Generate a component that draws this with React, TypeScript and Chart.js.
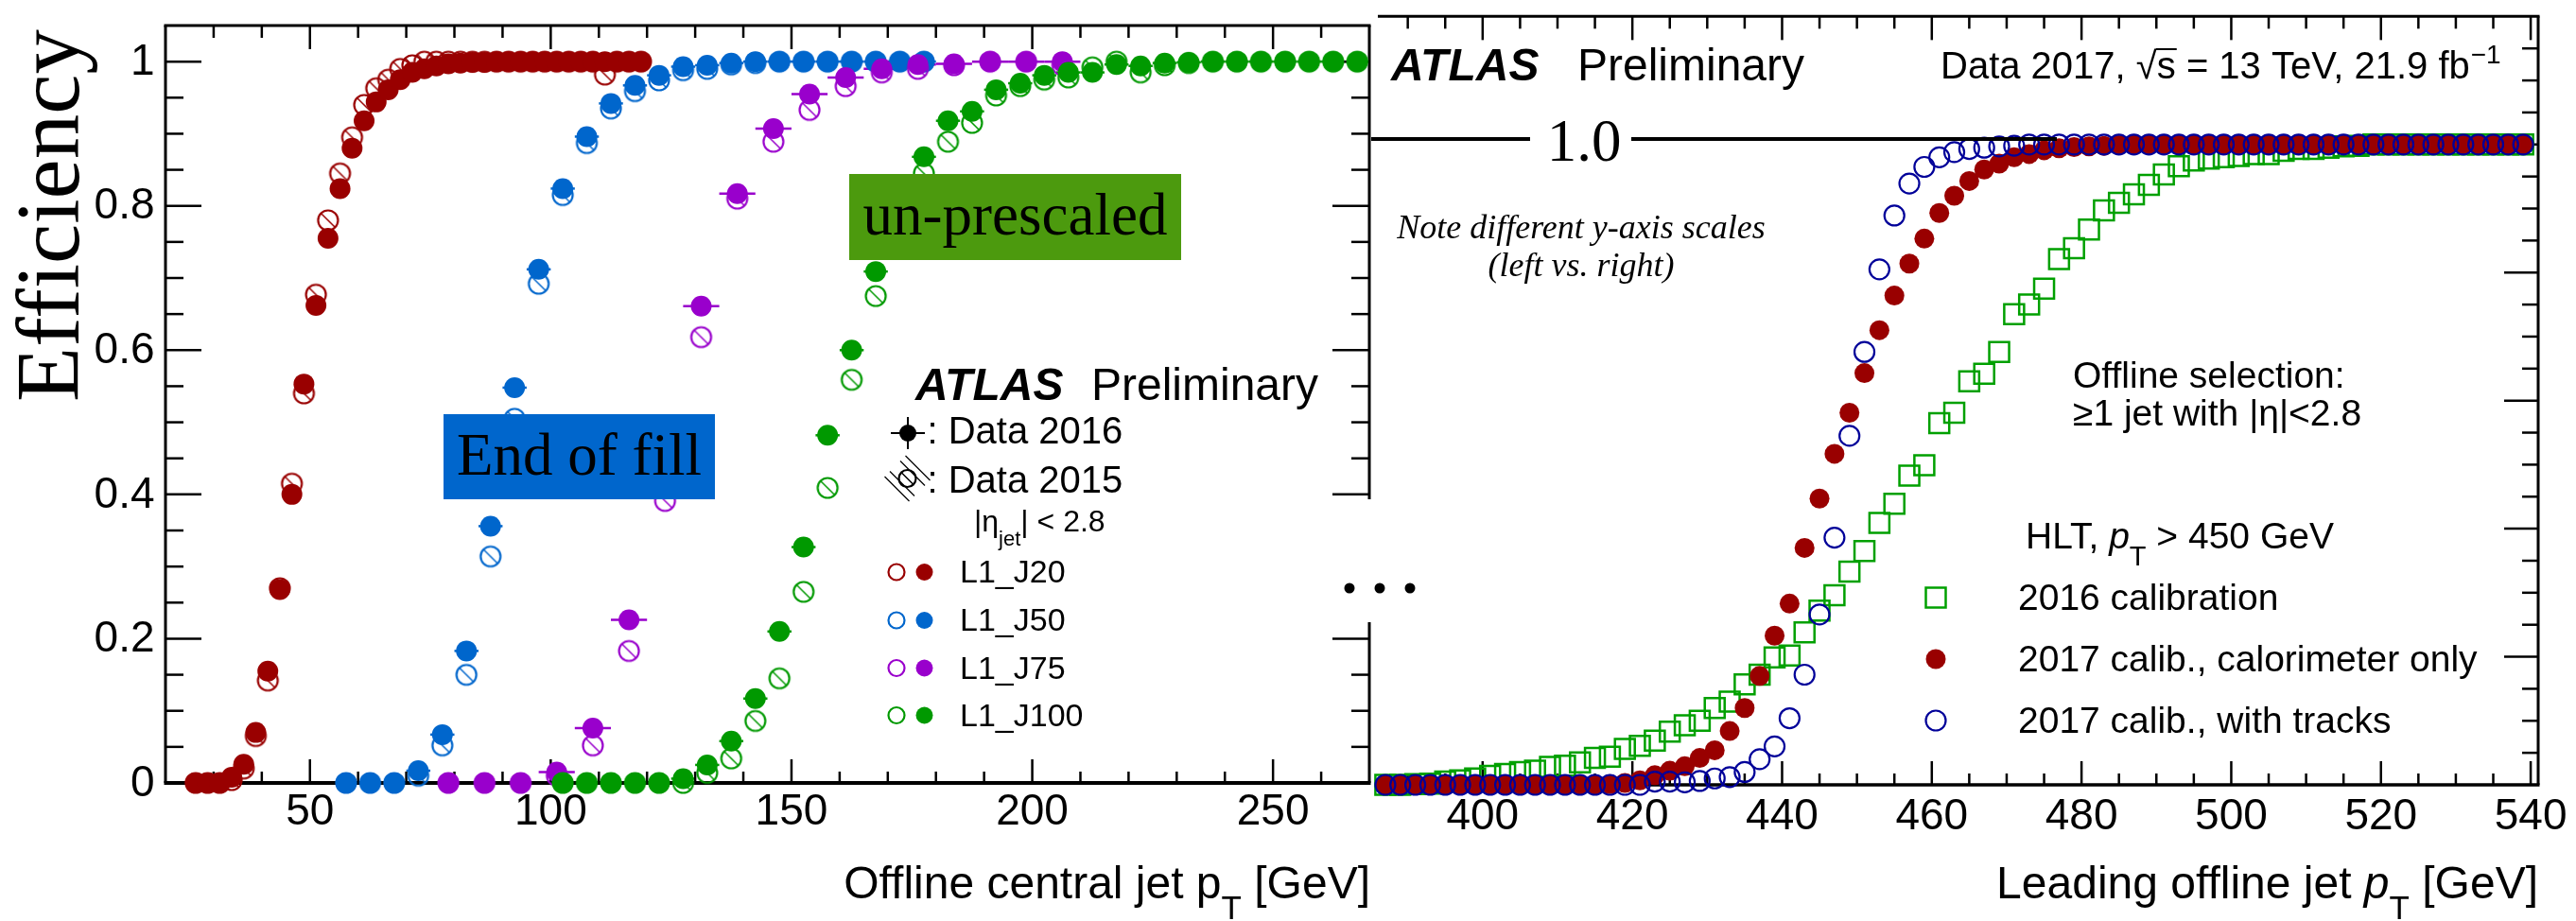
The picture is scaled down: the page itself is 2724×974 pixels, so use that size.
import React, { useEffect, useRef } from 'react';
import { Chart, registerables } from 'chart.js';

Chart.register(...registerables);

const SANS = '"Liberation Sans", Arial, Helvetica, sans-serif';
const SERIF = '"Liberation Serif", "Times New Roman", serif';
const sans = (px: number, style = '') => `${style} ${px}px ${SANS}`.trim();
const serif = (px: number, style = '') => `${style} ${px}px ${SERIF}`.trim();

// ---------- Left panel: L1 jet trigger turn-on curves ----------
const j20Pt = [26.25, 28.75, 31.25, 33.75, 36.25, 38.75, 41.25, 43.75, 46.25, 48.75, 51.25, 53.75, 56.25, 58.75, 61.25, 63.75, 66.25, 68.75, 71.25, 73.75, 76.25, 78.75, 81.25, 83.75, 86.25, 88.75, 91.25, 93.75, 96.25, 98.75, 101.25, 103.75, 106.25, 108.75, 111.25, 113.75, 116.25, 118.75];
const j20Eff2016 = [0, 0, 0, 0.008, 0.026, 0.07, 0.155, 0.268, 0.4, 0.553, 0.662, 0.755, 0.824, 0.88, 0.918, 0.944, 0.961, 0.975, 0.985, 0.99, 0.994, 0.997, 0.998, 0.999, 0.999, 1, 1, 1, 1, 1, 1, 1, 1, 1, 1, 1, 1, 1];
const j20Eff2015 = [0, 0, 0, 0.004, 0.02, 0.065, 0.142, 0.27, 0.415, 0.54, 0.677, 0.78, 0.845, 0.895, 0.94, 0.963, 0.975, 0.99, 0.995, 1, 1, 1, 1, 1, 1, 1, 1, 1, 1, 1, 1, 1, 1, 1, 0.982, 1, 1, 1];

const j50Pt = [57.5, 62.5, 67.5, 72.5, 77.5, 82.5, 87.5, 92.5, 97.5, 102.5, 107.5, 112.5, 117.5, 122.5, 127.5, 132.5, 137.5, 142.5, 147.5, 152.5, 157.5, 162.5, 167.5, 172.5, 177.5];
const j50Eff2016 = [0, 0, 0, 0.017, 0.067, 0.183, 0.356, 0.548, 0.712, 0.824, 0.896, 0.942, 0.967, 0.981, 0.993, 0.995, 0.998, 1, 1, 1, 1, 1, 1, 1, 1];
const j50Eff2015 = [0, 0, 0, 0.01, 0.052, 0.15, 0.314, 0.505, 0.692, 0.815, 0.887, 0.935, 0.959, 0.974, 0.988, 0.99, 0.996, 0.998, 1, 1, 1, 1, 1, 1, 1];

const j75Pt = [78.75, 86.25, 93.75, 101.25, 108.75, 116.25, 123.75, 131.25, 138.75, 146.25, 153.75, 161.25, 168.75, 176.25, 183.75, 191.25, 198.75, 206.25];
const j75Eff2016 = [0, 0, 0, 0.015, 0.076, 0.226, 0.43, 0.661, 0.817, 0.907, 0.955, 0.978, 0.99, 0.996, 0.997, 1, 1, 1];
const j75Eff2015 = [0, 0, 0, 0.01, 0.052, 0.183, 0.391, 0.618, 0.81, 0.889, 0.933, 0.966, 0.985, 0.99, 0.995, 1, 1, 0.995];

const j100Pt = [102.5, 107.5, 112.5, 117.5, 122.5, 127.5, 132.5, 137.5, 142.5, 147.5, 152.5, 157.5, 162.5, 167.5, 172.5, 177.5, 182.5, 187.5, 192.5, 197.5, 202.5, 207.5, 212.5, 217.5, 222.5, 227.5, 232.5, 237.5, 242.5, 247.5, 252.5, 257.5, 262.5, 267.5];
const j100Eff2016 = [0, 0, 0, 0, 0, 0.006, 0.025, 0.058, 0.117, 0.21, 0.327, 0.482, 0.6, 0.709, 0.8, 0.868, 0.918, 0.931, 0.961, 0.97, 0.981, 0.985, 0.985, 0.996, 0.994, 0.998, 0.999, 1, 1, 1, 1, 1, 1, 1];
const j100Eff2015 = [0, 0, 0, 0, 0, 0, 0.014, 0.034, 0.086, 0.145, 0.265, 0.409, 0.559, 0.675, 0.77, 0.845, 0.889, 0.915, 0.953, 0.966, 0.975, 0.978, 0.992, 1, 0.985, 0.995, 0.998, 1, 1, 1, 1, 1, 1, 1];

const leftXTicks = [50, 100, 150, 200, 250];
const leftYTicks = [0, 0.2, 0.4, 0.6, 0.8, 1];
const leftYTickLabels = ['0', '0.2', '0.4', '0.6', '0.8', '1'];
const leftLegendNames = ['L1_J20', 'L1_J50', 'L1_J75', 'L1_J100'];

// ---------- Right panel: HLT j450 turn-on ----------
const hltPt = [387, 389, 391, 393, 395, 397, 399, 401, 403, 405, 407, 409, 411, 413, 415, 417, 419, 421, 423, 425, 427, 429, 431, 433, 435, 437, 439, 441, 443, 445, 447, 449, 451, 453, 455, 457, 459, 461, 463, 465, 467, 469, 471, 473, 475, 477, 479, 481, 483, 485, 487, 489, 491, 493, 495, 497, 499, 501, 503, 505, 507, 509, 511, 513, 515, 517, 519, 521, 523, 525, 527, 529, 531, 533, 535, 537, 539];
const hltEff2016Calib = [0, 0, 0.001, 0.002, 0.005, 0.007, 0.01, 0.014, 0.017, 0.02, 0.022, 0.028, 0.03, 0.035, 0.042, 0.044, 0.056, 0.061, 0.069, 0.083, 0.093, 0.1, 0.12, 0.13, 0.157, 0.172, 0.199, 0.202, 0.238, 0.272, 0.296, 0.333, 0.365, 0.409, 0.439, 0.483, 0.499, 0.565, 0.581, 0.63, 0.642, 0.676, 0.735, 0.75, 0.775, 0.821, 0.838, 0.867, 0.897, 0.909, 0.922, 0.937, 0.953, 0.966, 0.975, 0.978, 0.98, 0.982, 0.985, 0.985, 0.99, 0.993, 0.993, 0.995, 0.997, 0.998, 1, 1, 1, 1, 1, 1, 1, 1, 1, 1, 1];
const hltEff2017Calo = [0, 0, 0, 0, 0, 0, 0, 0, 0, 0, 0, 0, 0, 0, 0, 0.001, 0.003, 0.007, 0.015, 0.022, 0.029, 0.042, 0.054, 0.084, 0.12, 0.17, 0.233, 0.283, 0.37, 0.447, 0.517, 0.581, 0.643, 0.71, 0.764, 0.814, 0.853, 0.893, 0.92, 0.943, 0.961, 0.97, 0.98, 0.985, 0.991, 0.994, 0.996, 0.997, 0.998, 0.999, 1, 1, 1, 1, 1, 1, 1, 1, 1, 1, 1, 1, 1, 1, 1, 1, 1, 1, 1, 1, 1, 1, 1, 1, 1, 1, 1];
const hltEff2017Tracks = [0, 0, 0, 0, 0, 0, 0, 0, 0, 0, 0, 0, 0, 0, 0, 0, 0, 0, 0.005, 0.005, 0.004, 0.006, 0.01, 0.012, 0.02, 0.04, 0.06, 0.104, 0.172, 0.266, 0.386, 0.545, 0.676, 0.805, 0.889, 0.939, 0.965, 0.98, 0.988, 0.993, 0.995, 0.997, 0.998, 1, 1, 1, 1, 1, 1, 1, 1, 1, 1, 1, 1, 1, 1, 1, 1, 1, 1, 1, 1, 1, 1, 1, 1, 1, 1, 1, 1, 1, 1, 1, 1, 1, 1];

const rightXTicks = [400, 420, 440, 460, 480, 500, 520, 540];
const rightLegendNames = ['2016 calibration', '2017 calib., calorimeter only', '2017 calib., with tracks'];

// ---------- styles ----------
const RED = '#990000';
const BLUE = '#0066cc';
const PURPLE = '#9900cc';
const GREEN = '#009900';
const CAL16 = '#00a000';
const CALO17 = '#990000';
const TRK17 = '#000099';
const BOX_BLUE = '#0066cc';
const BOX_GREEN = '#4c9a0e';

const RIGHT_CANVAS_X = 1400;

function pts(x: number[], y: number[]) {
  return x.map((v, i) => ({ x: v, y: y[i] }));
}

function line(ctx: CanvasRenderingContext2D, x1: number, y1: number, x2: number, y2: number) {
  ctx.beginPath();
  ctx.moveTo(x1, y1);
  ctx.lineTo(x2, y2);
  ctx.stroke();
}

// open circle with a diagonal stroke (2015 marker)
function makeSlashCircle(color: string, r: number, lw: number): HTMLCanvasElement {
  const raw = Math.ceil(2 * r + lw + 4);
  const size = raw + (raw % 2);
  const c = document.createElement('canvas');
  c.width = size;
  c.height = size;
  const g = c.getContext('2d')!;
  const m = size / 2;
  g.strokeStyle = color;
  g.lineWidth = lw;
  g.beginPath();
  g.arc(m, m, r, 0, Math.PI * 2);
  g.stroke();
  g.lineWidth = lw * 0.7;
  const d = r * 0.72;
  g.beginPath();
  g.moveTo(m - d, m - d);
  g.lineTo(m + d, m + d);
  g.stroke();
  return c;
}

type Run = { t: string; font: string; dy?: number; gap?: number };

function runsWidth(ctx: CanvasRenderingContext2D, runs: Run[]) {
  let w = 0;
  for (const r of runs) {
    ctx.font = r.font;
    w += ctx.measureText(r.t).width + (r.gap || 0);
  }
  return w;
}

function drawRuns(ctx: CanvasRenderingContext2D, x: number, y: number, runs: Run[], align: 'left' | 'right' | 'center' = 'left') {
  const w = runsWidth(ctx, runs);
  let cx = align === 'right' ? x - w : align === 'center' ? x - w / 2 : x;
  ctx.textAlign = 'left';
  ctx.textBaseline = 'alphabetic';
  for (const r of runs) {
    ctx.font = r.font;
    ctx.fillText(r.t, cx, y + (r.dy || 0));
    cx += ctx.measureText(r.t).width + (r.gap || 0);
  }
  return cx;
}

const GAP_TOP = 528;
const GAP_BOTTOM = 658;

const leftDecor = {
  id: 'leftDecor',
  beforeDatasetsDraw(chart: any) {
    const ctx: CanvasRenderingContext2D = chart.ctx;
    const a = chart.chartArea;
    const xs = chart.scales.x;
    const ys = chart.scales.y;
    ctx.save();
    // horizontal bin-width bars on the 2016 points
    chart.data.datasets.forEach((ds: any) => {
      if (!ds.binWidth) return;
      ctx.strokeStyle = ds.backgroundColor;
      ctx.lineWidth = 2.5;
      for (const p of ds.data) {
        const y = ys.getPixelForValue(p.y);
        line(ctx, xs.getPixelForValue(p.x - ds.binWidth / 2), y, xs.getPixelForValue(p.x + ds.binWidth / 2), y);
      }
    });
    // frame
    ctx.strokeStyle = '#000';
    ctx.lineWidth = 3;
    line(ctx, a.left - 1.5, a.top, a.right + 1.5, a.top);
    line(ctx, a.left, a.top, a.left, a.bottom);
    line(ctx, a.right, a.top, a.right, GAP_TOP);
    line(ctx, a.right, GAP_BOTTOM, a.right, a.bottom);
    ctx.lineWidth = 4;
    line(ctx, a.left - 1.5, a.bottom, a.right + 1.5, a.bottom);
    // ticks
    ctx.lineWidth = 2.5;
    for (let v = 30; v <= 260; v += 10) {
      const major = v % 50 === 0;
      const px = xs.getPixelForValue(v);
      line(ctx, px, a.bottom, px, a.bottom - (major ? 25 : 12));
      line(ctx, px, a.top, px, a.top + (major ? 25 : 13));
    }
    for (let k = 1; k <= 20; k++) {
      const major = k % 4 === 0;
      const py = ys.getPixelForValue(k * 0.05);
      line(ctx, a.left, py, a.left + (major ? 38 : 19), py);
      if (py < GAP_TOP - 2 || py > GAP_BOTTOM + 2) line(ctx, a.right, py, a.right - (major ? 39 : 19), py);
    }
    // tick labels
    ctx.fillStyle = '#000';
    ctx.font = sans(46);
    ctx.textAlign = 'right';
    ctx.textBaseline = 'middle';
    leftYTicks.forEach((v, i) => ctx.fillText(leftYTickLabels[i], a.left - 11.5, ys.getPixelForValue(v) + 1));
    ctx.textAlign = 'center';
    ctx.textBaseline = 'alphabetic';
    leftXTicks.forEach((v) => ctx.fillText(String(v), xs.getPixelForValue(v), 872));
    // axis titles
    drawRuns(ctx, a.right + 1, 950, [
      { t: 'Offline central jet p', font: sans(48) },
      { t: 'T', font: sans(35), dy: 22 },
      { t: ' [GeV]', font: sans(48) },
    ], 'right');
    ctx.save();
    ctx.translate(83, 228);
    ctx.rotate(-Math.PI / 2);
    ctx.font = serif(95);
    ctx.textAlign = 'center';
    ctx.fillText('Efficiency', 0, 0);
    ctx.restore();
    ctx.restore();
  },
  afterDatasetsDraw(chart: any) {
    const ctx: CanvasRenderingContext2D = chart.ctx;
    ctx.save();
    // labelled boxes
    ctx.fillStyle = BOX_BLUE;
    ctx.fillRect(469, 438, 287, 90);
    ctx.fillStyle = BOX_GREEN;
    ctx.fillRect(898, 184, 351, 91);
    ctx.fillStyle = '#000';
    ctx.font = serif(63);
    ctx.textAlign = 'center';
    ctx.textBaseline = 'alphabetic';
    ctx.fillText('End of fill', 612.5, 502);
    ctx.fillText('un-prescaled', 1073.5, 248);

    // ATLAS label and legend
    ctx.textAlign = 'left';
    ctx.font = sans(48, 'italic bold');
    ctx.fillText('ATLAS', 968, 423);
    ctx.font = sans(48);
    ctx.fillText('Preliminary', 1154, 423);

    // Data 2016 marker: filled dot with error cross
    ctx.strokeStyle = '#000';
    ctx.lineWidth = 2;
    line(ctx, 942, 458, 978, 458);
    line(ctx, 960, 441, 960, 475);
    ctx.beginPath();
    ctx.arc(960, 458, 9, 0, Math.PI * 2);
    ctx.fill();
    ctx.font = sans(40);
    ctx.fillText(': Data 2016', 980.5, 469);

    // Data 2015 marker: hatched open circle
    ctx.lineWidth = 1.2;
    for (let k = -2; k <= 2; k++) {
      if (k === 0) continue;
      const cx = 959.5 + k * 5.5;
      const cy = 506 - k * 5.5;
      line(ctx, cx - 13, cy - 13, cx + 13, cy + 13);
    }
    ctx.lineWidth = 2.2;
    ctx.beginPath();
    ctx.arc(959.5, 506, 9, 0, Math.PI * 2);
    ctx.stroke();
    ctx.lineWidth = 1.5;
    line(ctx, 953, 499.5, 966, 512.5);
    ctx.fillText(': Data 2015', 980.5, 521);

    drawRuns(ctx, 1030, 562, [
      { t: '|\u03b7', font: sans(32) },
      { t: 'jet', font: sans(22), dy: 15 },
      { t: '| < 2.8', font: sans(32) },
    ]);

    const colors = [RED, BLUE, PURPLE, GREEN];
    const rows = [605, 656, 706.5, 756.5];
    leftLegendNames.forEach((name, i) => {
      ctx.strokeStyle = colors[i];
      ctx.fillStyle = colors[i];
      ctx.lineWidth = 2.2;
      ctx.beginPath();
      ctx.arc(948, rows[i], 8.5, 0, Math.PI * 2);
      ctx.stroke();
      ctx.beginPath();
      ctx.arc(977.5, rows[i], 9, 0, Math.PI * 2);
      ctx.fill();
      ctx.fillStyle = '#000';
      ctx.font = sans(34);
      ctx.fillText(name, 1015, rows[i] + 11);
    });
    ctx.restore();
  },
};

const rightDecor = {
  id: 'rightDecor',
  beforeDatasetsDraw(chart: any) {
    const ctx: CanvasRenderingContext2D = chart.ctx;
    const a = chart.chartArea;
    const xs = chart.scales.x;
    const ys = chart.scales.y;
    const X = (px: number) => px - RIGHT_CANVAS_X;
    ctx.save();
    ctx.strokeStyle = '#000';
    ctx.fillStyle = '#000';
    ctx.lineWidth = 3;
    line(ctx, a.left, a.top, a.right + 1.5, a.top);
    line(ctx, a.right, a.top, a.right, a.bottom);
    ctx.lineWidth = 3.5;
    line(ctx, a.left, a.bottom, a.right + 1.5, a.bottom);
    ctx.lineWidth = 2.5;
    for (let v = 390; v <= 540; v += 5) {
      const major = v % 20 === 0;
      const px = xs.getPixelForValue(v);
      line(ctx, px, a.bottom, px, a.bottom - (major ? 25 : 12));
      line(ctx, px, a.top, px, a.top + (major ? 25 : 13));
    }
    for (let k = 1; k <= 23; k++) {
      const major = k % 4 === 0;
      const py = ys.getPixelForValue(k * 0.05);
      line(ctx, a.right, py, a.right - (major ? 36 : 17), py);
    }
    ctx.font = sans(46);
    ctx.textAlign = 'center';
    ctx.textBaseline = 'alphabetic';
    rightXTicks.forEach((v) => ctx.fillText(String(v), xs.getPixelForValue(v), 877));

    drawRuns(ctx, a.right, 950, [
      { t: 'Leading offline jet ', font: sans(48) },
      { t: 'p', font: sans(48, 'italic') },
      { t: 'T', font: sans(35), dy: 22 },
      { t: ' [GeV]', font: sans(48) },
    ], 'right');

    // header
    ctx.textAlign = 'left';
    ctx.font = sans(48, 'italic bold');
    ctx.fillText('ATLAS', X(1471), 85);
    ctx.font = sans(48);
    ctx.fillText('Preliminary', X(1668), 85);

    ctx.font = sans(40);
    let hx = X(2052);
    const hy = 83;
    ctx.fillText('Data 2017, ', hx, hy);
    hx += ctx.measureText('Data 2017, ').width;
    ctx.fillText('\u221a', hx, hy);
    hx += ctx.measureText('\u221a').width;
    const sStart = hx;
    ctx.fillText('s', hx, hy);
    hx += ctx.measureText('s').width;
    ctx.lineWidth = 2;
    line(ctx, sStart - 1, hy - 31, hx + 1, hy - 31);
    ctx.fillText(' = 13 TeV, 21.9 fb', hx, hy);
    hx += ctx.measureText(' = 13 TeV, 21.9 fb').width;
    ctx.font = sans(28);
    ctx.fillText('\u22121', hx + 1, hy - 16);

    // note
    ctx.font = serif(36, 'italic');
    ctx.textAlign = 'center';
    ctx.fillText('Note different y-axis scales', X(1672), 252);
    ctx.fillText('(left vs. right)', X(1672), 292);

    // selection text
    ctx.textAlign = 'left';
    ctx.font = sans(39);
    ctx.fillText('Offline selection:', X(2192), 410);
    ctx.fillText('\u22651 jet with |\u03b7|<2.8', X(2192), 450);

    drawRuns(ctx, X(2142), 580, [
      { t: 'HLT, ', font: sans(39) },
      { t: 'p', font: sans(39, 'italic') },
      { t: 'T', font: sans(29), dy: 18 },
      { t: ' > 450 GeV', font: sans(39) },
    ]);

    // legend
    const rows = [632, 697, 762];
    ctx.lineWidth = 2.5;
    ctx.strokeStyle = CAL16;
    ctx.strokeRect(X(2047) - 10.5, rows[0] - 10.5, 21, 21);
    ctx.fillStyle = CALO17;
    ctx.beginPath();
    ctx.arc(X(2047), rows[1], 10.5, 0, Math.PI * 2);
    ctx.fill();
    ctx.strokeStyle = TRK17;
    ctx.lineWidth = 2.2;
    ctx.beginPath();
    ctx.arc(X(2047), rows[2], 10.5, 0, Math.PI * 2);
    ctx.stroke();
    ctx.fillStyle = '#000';
    ctx.font = sans(39);
    rightLegendNames.forEach((name, i) => ctx.fillText(name, X(2134), rows[i] + 13));
    ctx.restore();
  },
  afterDatasetsDraw(chart: any) {
    const ctx: CanvasRenderingContext2D = chart.ctx;
    const X = (px: number) => px - RIGHT_CANVAS_X;
    ctx.save();
    // reference line at efficiency 1.0
    ctx.strokeStyle = '#000';
    ctx.lineWidth = 4;
    line(ctx, X(1450), 147, X(1618), 147);
    line(ctx, X(1725), 147, X(2175), 147);
    ctx.fillStyle = '#000';
    ctx.font = serif(63);
    ctx.textAlign = 'center';
    ctx.textBaseline = 'alphabetic';
    ctx.fillText('1.0', X(1675), 170);
    // ellipsis between panels
    [1427, 1459, 1491].forEach((dx) => {
      ctx.beginPath();
      ctx.arc(X(dx), 622, 5.5, 0, Math.PI * 2);
      ctx.fill();
    });
    ctx.restore();
  },
};

function leftConfig(): any {
  const triggers = [
    { pt: j100Pt, e16: j100Eff2016, e15: j100Eff2015, color: GREEN, bin: 5 },
    { pt: j75Pt, e16: j75Eff2016, e15: j75Eff2015, color: PURPLE, bin: 7.5 },
    { pt: j50Pt, e16: j50Eff2016, e15: j50Eff2015, color: BLUE, bin: 5 },
    { pt: j20Pt, e16: j20Eff2016, e15: j20Eff2015, color: RED, bin: 2.5 },
  ];
  const datasets: any[] = [];
  triggers.forEach((t, k) => {
    datasets.push({
      label: `${t.color}-2016`,
      data: pts(t.pt, t.e16),
      order: 2 * k,
      pointStyle: 'circle',
      pointRadius: 11,
      backgroundColor: t.color,
      borderColor: t.color,
      borderWidth: 0,
      clip: false,
      binWidth: t.bin,
    });
    datasets.push({
      label: `${t.color}-2015`,
      data: pts(t.pt, t.e15),
      order: 2 * k + 1,
      pointStyle: makeSlashCircle(t.color, 10.5, 2.2),
      pointRadius: 11,
      backgroundColor: 'rgba(0,0,0,0)',
      borderColor: t.color,
      clip: false,
    });
  });
  return {
    type: 'scatter',
    data: { datasets },
    options: {
      responsive: false,
      maintainAspectRatio: false,
      devicePixelRatio: 1,
      animation: false,
      events: [],
      layout: { padding: { left: 175, right: 7.4, top: 27, bottom: 146 } },
      plugins: { legend: { display: false }, tooltip: { enabled: false } },
      scales: {
        x: { type: 'linear', min: 20, max: 270, display: false },
        y: { type: 'linear', min: 0, max: 1.05, display: false },
      },
    },
    plugins: [leftDecor],
  };
}

function rightConfig(): any {
  return {
    type: 'scatter',
    data: {
      datasets: [
        {
          label: rightLegendNames[2],
          data: pts(hltPt, hltEff2017Tracks),
          order: 0,
          pointStyle: 'circle',
          pointRadius: 10.5,
          backgroundColor: 'rgba(0,0,0,0)',
          borderColor: TRK17,
          borderWidth: 2.2,
          clip: false,
        },
        {
          label: rightLegendNames[1],
          data: pts(hltPt, hltEff2017Calo),
          order: 1,
          pointStyle: 'circle',
          pointRadius: 10.5,
          backgroundColor: CALO17,
          borderColor: CALO17,
          borderWidth: 0,
          clip: false,
        },
        {
          label: rightLegendNames[0],
          data: pts(hltPt, hltEff2016Calib),
          order: 2,
          pointStyle: 'rect',
          pointRadius: 14.85,
          backgroundColor: 'rgba(0,0,0,0)',
          borderColor: CAL16,
          borderWidth: 2.5,
          clip: false,
        },
      ],
    },
    options: {
      responsive: false,
      maintainAspectRatio: false,
      devicePixelRatio: 1,
      animation: false,
      events: [],
      layout: { padding: { left: 57, right: 40, top: 13, bottom: 144 } },
      plugins: { legend: { display: false }, tooltip: { enabled: false } },
      scales: {
        x: { type: 'linear', min: 386, max: 541, display: false },
        y: { type: 'linear', min: 0, max: 1.2, display: false },
      },
    },
    plugins: [rightDecor],
  };
}

export default function App() {
  const leftRef = useRef<HTMLCanvasElement>(null);
  const rightRef = useRef<HTMLCanvasElement>(null);

  useEffect(() => {
    const left = new Chart(leftRef.current!, leftConfig());
    const right = new Chart(rightRef.current!, rightConfig());
    return () => {
      left.destroy();
      right.destroy();
    };
  }, []);

  return (
    <div style={{ position: 'absolute', left: 0, top: 0, width: 2724, height: 974, background: '#fff', overflow: 'hidden' }}>
      <canvas
        ref={leftRef}
        width={1460}
        height={974}
        style={{ position: 'absolute', left: 0, top: 0, width: 1460, height: 974 }}
      />
      <canvas
        ref={rightRef}
        width={1324}
        height={974}
        style={{ position: 'absolute', left: RIGHT_CANVAS_X, top: 0, width: 1324, height: 974 }}
      />
    </div>
  );
}
